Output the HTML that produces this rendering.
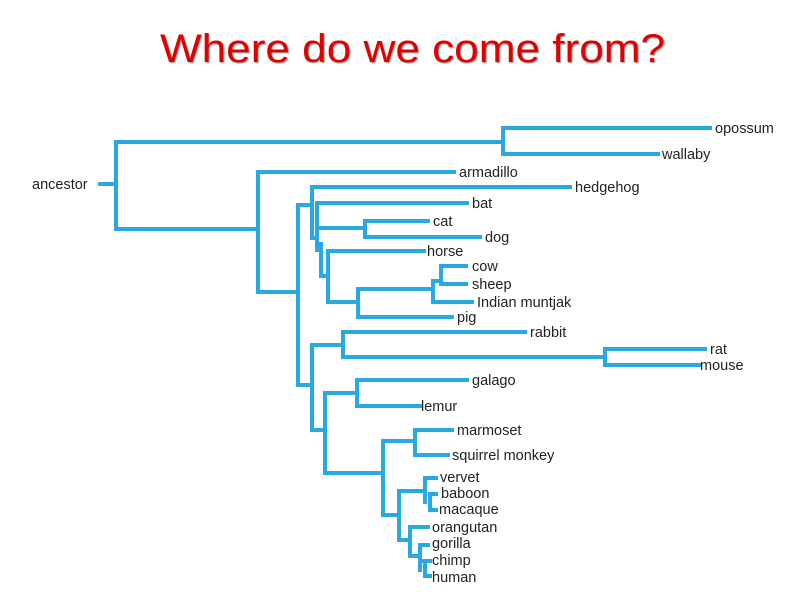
<!DOCTYPE html>
<html><head><style>body{margin:0;background:#fff}</style></head><body>
<svg width="800" height="600" xmlns="http://www.w3.org/2000/svg">
<text x="160" y="62" font-family="Liberation Sans, sans-serif" font-size="40" fill="#e00000" textLength="505" lengthAdjust="spacingAndGlyphs" style="text-shadow:1px 1px 1px #999">Where do we come from?</text>
<g stroke="#29a9e1" stroke-width="4" fill="none" stroke-linecap="square">
<path d="M100 184H116M116 142V229M116 142H503M503 128V154M503 128H710M503 154H658"/>
<path d="M116 229H258M258 172V292M258 172H454M258 292H298M298 205V385"/>
<path d="M298 205H312M312 187V238M312 187H570M312 238H317M317 203V250M317 203H467"/>
<path d="M317 228H323M323 228H365M365 221V237M365 221H428M365 237H480"/>
<path d="M321 244V276M321 276H328M328 251V302M328 251H424M328 302H358M358 289V317M358 317H452M358 289H433M433 281V302M433 302H472M433 281H441M441 266V284M441 266H466M441 284H466"/>
<path d="M298 385H312M312 345V430M312 345H343M343 332V357M343 332H525M343 357H605M605 349V365M605 349H705M605 365H700"/>
<path d="M312 430H325M325 393V473M325 393H357M357 380V406M357 380H467M357 406H420"/>
<path d="M325 473H383M383 441V515M383 441H415M415 430V455M415 430H452M415 455H448"/>
<path d="M383 515H399M399 491V540M399 491H425M425 478V502M425 478H436M430 494V510M430 494H436M430 510H436"/>
<path d="M399 540H410M410 527V556M410 527H428M410 556H420M420 545V570M420 545H428M420 561H425M425 561V576M425 561H430M425 576H430"/>
</g>
<g font-family="Liberation Sans, sans-serif" font-size="14.5" fill="#222">
<text x="32" y="189">ancestor</text>
<text x="715" y="133">opossum</text>
<text x="662" y="159">wallaby</text>
<text x="459" y="177">armadillo</text>
<text x="575" y="192">hedgehog</text>
<text x="472" y="208">bat</text>
<text x="433" y="226">cat</text>
<text x="485" y="242">dog</text>
<text x="427" y="256">horse</text>
<text x="472" y="271">cow</text>
<text x="472" y="289">sheep</text>
<text x="477" y="307">Indian muntjak</text>
<text x="457" y="322">pig</text>
<text x="530" y="337">rabbit</text>
<text x="710" y="354">rat</text>
<text x="700" y="370">mouse</text>
<text x="472" y="385">galago</text>
<text x="421" y="411">lemur</text>
<text x="457" y="435">marmoset</text>
<text x="452" y="460">squirrel monkey</text>
<text x="440" y="482">vervet</text>
<text x="441" y="498">baboon</text>
<text x="439" y="514">macaque</text>
<text x="432" y="532">orangutan</text>
<text x="432" y="548">gorilla</text>
<text x="432" y="565">chimp</text>
<text x="432" y="582">human</text>
</g>
</svg>
</body></html>
